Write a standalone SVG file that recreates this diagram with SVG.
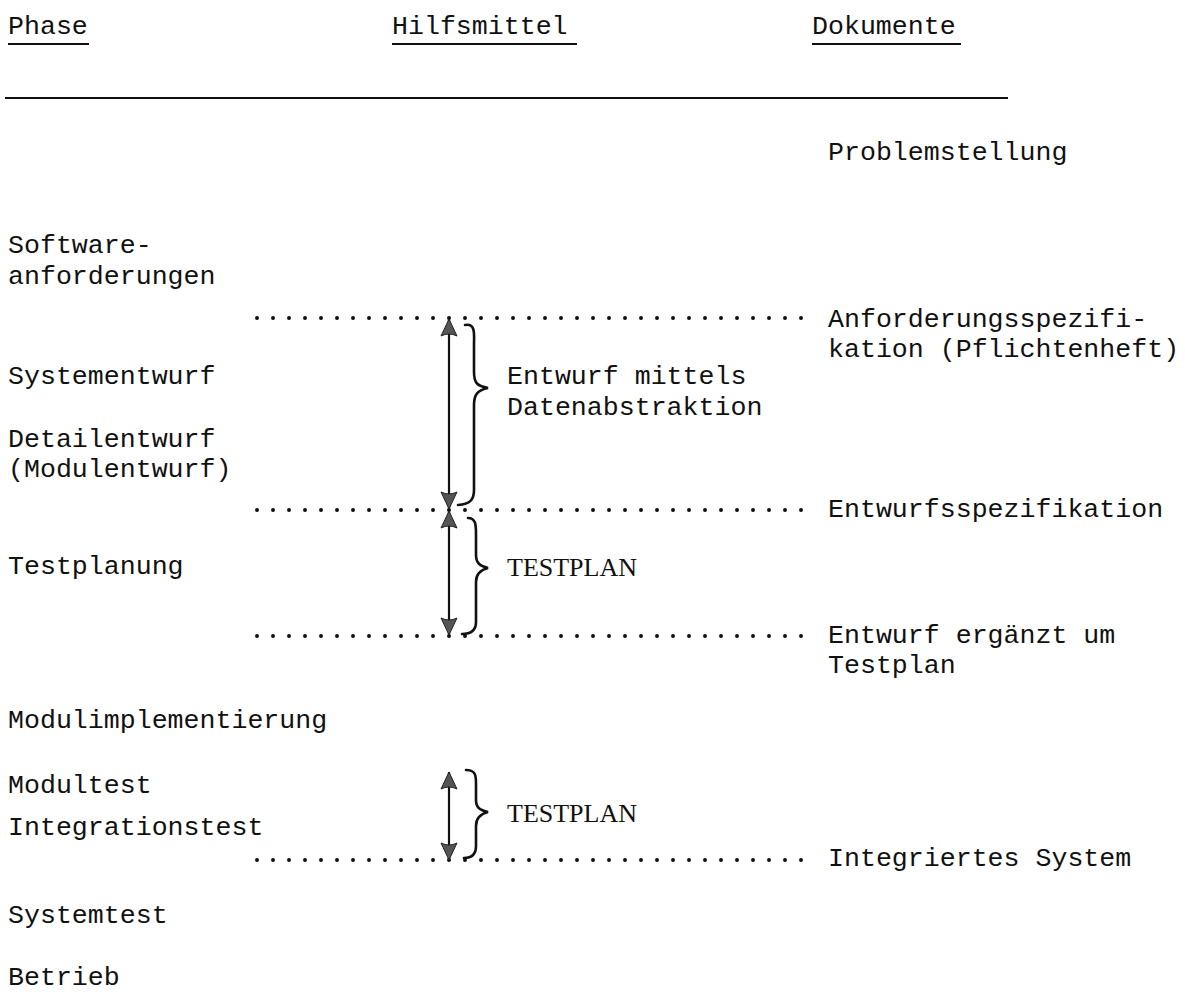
<svg xmlns="http://www.w3.org/2000/svg" width="1185" height="992" viewBox="0 0 1185 992">
<style>
text{font-family:"Liberation Mono","Courier New",monospace;font-size:26.6px;fill:#111}
.tp{font-family:"Liberation Serif","Times New Roman",serif;font-size:26px}
.dots{stroke:#111;stroke-width:4;stroke-linecap:round;stroke-dasharray:0 16;fill:none}
.rule{stroke:#111;stroke-width:2;fill:none}
.arr{stroke:#111;stroke-width:2.2;fill:none}
.brace{stroke:#111;stroke-width:2.6;fill:none;stroke-linecap:round}
</style>
<defs>
<marker id="head" viewBox="-18 -10 20 20" refX="0" refY="0" markerWidth="20" markerHeight="20" markerUnits="userSpaceOnUse" orient="auto-start-reverse">
<path d="M0,0 L-17,-8 Q-13,0 -17,8 Z" fill="#555" stroke="#222" stroke-width="1"/>
</marker>
</defs>
<rect width="1185" height="992" fill="#fff"/>
<g id="header">
<text x="8" y="34">Phase</text>
<text x="392" y="34">Hilfsmittel</text>
<text x="812" y="34">Dokumente</text>
<line class="rule" x1="8" y1="44" x2="89" y2="44"/>
<line class="rule" x1="392" y1="44" x2="577" y2="44"/>
<line class="rule" x1="812" y1="44" x2="961" y2="44"/>
<line class="rule" x1="5" y1="98" x2="1008" y2="98"/>
</g>
<g id="phases">
<g id="p-software"><text x="8" y="253">Software-</text><text x="8" y="284">anforderungen</text></g>
<g id="p-systementwurf"><text x="8" y="384">Systementwurf</text></g>
<g id="p-detailentwurf"><text x="8" y="447">Detailentwurf</text><text x="8" y="477">(Modulentwurf)</text></g>
<g id="p-testplanung"><text x="8" y="574">Testplanung</text></g>
<g id="p-modulimpl"><text x="8" y="728">Modulimplementierung</text></g>
<g id="p-modultest"><text x="8" y="793">Modultest</text></g>
<g id="p-integrationstest"><text x="8" y="835">Integrationstest</text></g>
<g id="p-systemtest"><text x="8" y="923">Systemtest</text></g>
<g id="p-betrieb"><text x="8" y="985">Betrieb</text></g>
</g>
<g id="documents">
<g id="d-problem"><text x="828" y="160">Problemstellung</text></g>
<g id="d-anforderung"><text x="828" y="327">Anforderungsspezifi-</text><text x="828" y="357">kation (Pflichtenheft)</text></g>
<g id="d-entwurf"><text x="828" y="517">Entwurfsspezifikation</text></g>
<g id="d-ergaenzt"><text x="828" y="643">Entwurf ergänzt um</text><text x="828" y="673">Testplan</text></g>
<g id="d-integriert"><text x="828" y="866">Integriertes System</text></g>
</g>
<g id="tools">
<g id="t-datenabstraktion"><text x="507" y="384">Entwurf mittels</text><text x="507" y="415">Datenabstraktion</text></g>
<g id="t-testplan1"><text class="tp" x="507" y="576">TESTPLAN</text></g>
<g id="t-testplan2"><text class="tp" x="507" y="822">TESTPLAN</text></g>
</g>
<g id="connectors">
<line class="dots" x1="257" y1="318" x2="810" y2="318"/>
<line class="dots" x1="257" y1="510" x2="810" y2="510"/>
<line class="dots" x1="257" y1="636" x2="810" y2="636"/>
<line class="dots" x1="257" y1="860" x2="810" y2="860"/>
<line class="arr" x1="449" y1="319" x2="449" y2="509" marker-start="url(#head)" marker-end="url(#head)"/>
<line class="arr" x1="449" y1="511" x2="449" y2="635" marker-start="url(#head)" marker-end="url(#head)"/>
<line class="arr" x1="449" y1="772" x2="449" y2="860" marker-start="url(#head)" marker-end="url(#head)"/>
<path class="brace" d="M465,325 C476,323 474,335 474,345 L474,372 C474,384 478,386 488,388 C478,390 474,394 474,405 L474,490 C474,500 470,504 458,505"/>
<path class="brace" d="M468,518 C476,518 476,525 476,535 L476,555 C476,563 480,566 488,568 C480,570 476,574 476,582 L476,622 C476,630 472,634 462,634"/>
<path class="brace" d="M466,770 C476,770 476,776 476,784 L476,800 C476,808 480,810 488,812 C480,814 476,818 476,826 L476,846 C476,854 472,858 464,858"/>
</g>
</svg>
